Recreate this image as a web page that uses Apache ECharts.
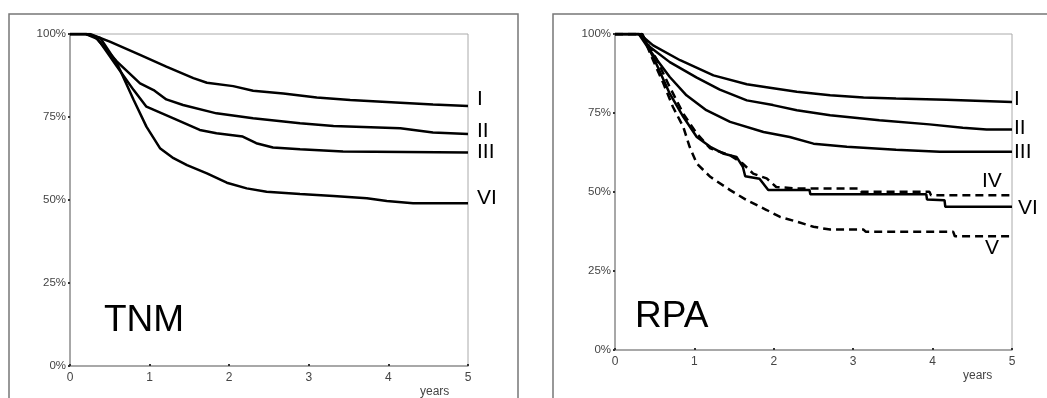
<!DOCTYPE html>
<html>
<head>
<meta charset="utf-8">
<script src="https://cdn.jsdelivr.net/npm/echarts@6/dist/echarts.min.js"></script>
<style>
html,body{margin:0;padding:0;background:#fff;}
#c{width:1047px;height:398px;}
</style>
</head>
<body>
<div id="c"></div>
<script>
// ---- Data (years, survival %) ----
const xTicks = [0, 1, 2, 3, 4, 5];
const yTicks = [0, 25, 50, 75, 100];

// TNM panel
const tnmI = [[0,100],[0.25,100],[0.5,97.7],[0.88,93.7],[1.21,90.2],[1.55,86.7],[1.72,85.3],[2.05,84.3],[2.30,82.9],[2.68,82.1],[3.10,80.9],[3.52,80.1],[4.15,79.3],[4.56,78.8],[5,78.3]];
const tnmII = [[0,100],[0.2,100],[0.31,99.3],[0.59,91.7],[0.88,85.1],[1.05,83.1],[1.21,80.3],[1.42,78.6],[1.84,76.1],[2.30,74.6],[2.89,73.1],[3.31,72.3],[4.15,71.6],[4.56,70.3],[5,69.9]];
const tnmIII = [[0,100],[0.2,100],[0.35,98.5],[0.59,90.2],[0.8,83.1],[0.96,78.1],[1.3,74.6],[1.63,71.1],[1.84,70.1],[2.17,69.1],[2.34,67.1],[2.55,65.8],[2.89,65.3],[3.43,64.6],[5,64.3]];
const tnmVI = [[0,100],[0.2,100],[0.38,98.8],[0.59,91.2],[0.8,80.1],[0.96,72.1],[1.13,65.6],[1.3,62.6],[1.47,60.5],[1.72,58.0],[1.97,55.2],[2.22,53.5],[2.47,52.5],[2.89,51.8],[3.31,51.2],[3.73,50.5],[3.98,49.7],[4.31,49.0],[5,49.0]];

// RPA panel
const rpaI = [[0,100],[0.31,100],[0.48,96.4],[0.82,91.7],[1.24,86.9],[1.66,84.1],[1.95,83.0],[2.29,81.7],[2.71,80.6],[3.13,79.9],[3.54,79.6],[4.17,79.2],[5,78.5]];
const rpaII = [[0,100],[0.3,100],[0.44,95.9],[0.69,91.1],[1.03,86.2],[1.32,82.4],[1.66,79.0],[1.99,77.5],[2.29,75.9],[2.71,74.3],[3.33,72.7],[3.96,71.4],[4.38,70.3],[4.68,69.8],[5,69.8]];
const rpaIII = [[0,100],[0.3,100],[0.44,94.8],[0.69,86.4],[0.9,80.6],[1.15,75.9],[1.45,72.2],[1.87,69.0],[2.2,67.4],[2.5,65.3],[2.92,64.3],[3.54,63.4],[4.09,62.7],[5,62.7]];
const rpaIV = [[0,100],[0.34,100],[0.52,92.2],[0.69,83.2],[0.86,74.8],[1.03,68.5],[1.2,63.8],[1.45,61.6],[1.61,59.0],[1.74,55.8],[1.91,54.3],[2.03,51.6],[2.29,51.1],[3.08,51.1],[3.10,50.1],[3.96,50.1],[3.98,49.0],[5,49.0]];
const rpaV = [[0,100],[0.34,100],[0.48,91.7],[0.61,84.3],[0.73,76.9],[0.86,70.6],[0.94,64.3],[1.03,59.0],[1.2,54.8],[1.45,50.6],[1.66,47.4],[1.91,44.3],[2.08,42.1],[2.29,40.6],[2.5,39.0],[2.71,38.1],[3.13,38.1],[3.16,37.4],[4.26,37.4],[4.28,36.0],[5,36.0]];
const rpaVI = [[0,100],[0.34,100],[0.52,90.6],[0.69,81.1],[0.86,73.8],[1.03,67.4],[1.2,64.3],[1.36,62.2],[1.53,61.1],[1.61,58.0],[1.64,55.0],[1.82,54.2],[1.93,50.6],[2.45,50.6],[2.46,49.3],[3.92,49.3],[3.93,47.6],[4.15,47.4],[4.16,45.3],[5,45.3]];

const tnmSeries = [
  {name:'I', data:tnmI, dash:false},
  {name:'II', data:tnmII, dash:false},
  {name:'III', data:tnmIII, dash:false},
  {name:'VI', data:tnmVI, dash:false}
];
const rpaSeries = [
  {name:'I', data:rpaI, dash:false},
  {name:'II', data:rpaII, dash:false},
  {name:'III', data:rpaIII, dash:false},
  {name:'IV', data:rpaIV, dash:true},
  {name:'V', data:rpaV, dash:true},
  {name:'VI', data:rpaVI, dash:false}
];

const FONT = '"Liberation Sans", Arial, sans-serif';

function xAxisCfg(gi){
  return {
    type:'value', gridIndex:gi, min:0, max:5, interval:1,
    axisLine:{show:true, onZero:false, lineStyle:{color:'#999', width:1.5}},
    axisTick:{show:true, length:2, inside:true, lineStyle:{color:'#333', width:2}},
    splitLine:{show:false},
    axisLabel:{color:'#444', fontSize:12, fontFamily:FONT, margin:6}
  };
}
function yAxisCfg(gi){
  return {
    type:'value', gridIndex:gi, min:0, max:100, interval:25,
    axisLine:{show:true, lineStyle:{color:'#999', width:1.5}},
    axisTick:{show:true, length:2, lineStyle:{color:'#333', width:2}},
    splitLine:{show:false},
    axisLabel:{color:'#444', fontSize:11.5, fontFamily:FONT, margin:4, formatter:'{value}%'}
  };
}
function mk(list, gi){
  return list.map(s => ({
    type:'line', name:s.name, xAxisIndex:gi, yAxisIndex:gi,
    data:s.data, showSymbol:false, symbol:'none', silent:true,
    lineStyle:{color:'#000', width:2.5, type: s.dash ? [8,5] : 'solid'},
    animation:false
  }));
}

function txt(x, y, t, size, align){
  return {type:'text', left:x, top:y, style:{text:t, font: size+'px '+FONT, fill:'#000', textAlign:align||'left'}};
}

const chart = echarts.init(document.getElementById('c'), null, {renderer:'canvas'});
chart.setOption({
  animation:false,
  backgroundColor:'#fff',
  grid:[
    {left:70, top:34, width:398, height:332, show:true, borderColor:'#aaa', borderWidth:1},
    {left:615, top:34, width:397, height:316, show:true, borderColor:'#aaa', borderWidth:1}
  ],
  xAxis:[xAxisCfg(0), xAxisCfg(1)],
  yAxis:[yAxisCfg(0), yAxisCfg(1)],
  series:[...mk(tnmSeries,0), ...mk(rpaSeries,1)],
  graphic:[
    {type:'rect', shape:{x:9, y:14, width:509, height:420}, style:{fill:'none', stroke:'#777', lineWidth:1.5}, z:-1},
    {type:'rect', shape:{x:553, y:14, width:520, height:420}, style:{fill:'none', stroke:'#777', lineWidth:1.5}, z:-1},
    txt(104, 302, 'TNM', 37),
    txt(635, 298, 'RPA', 37),
    {type:'text', left:420, top:386, style:{text:'years', font:'12px '+FONT, fill:'#444'}},
    {type:'text', left:963, top:370, style:{text:'years', font:'12px '+FONT, fill:'#444'}},
    txt(477, 89, 'I', 21),
    txt(477, 121, 'II', 21),
    txt(477, 142, 'III', 21),
    txt(477, 188, 'VI', 21),
    txt(1014, 89, 'I', 21),
    txt(1014, 118, 'II', 21),
    txt(1014, 142, 'III', 21),
    txt(982, 171, 'IV', 21),
    txt(1018, 198, 'VI', 21),
    txt(985, 238, 'V', 21)
  ]
});
</script>
</body>
</html>
